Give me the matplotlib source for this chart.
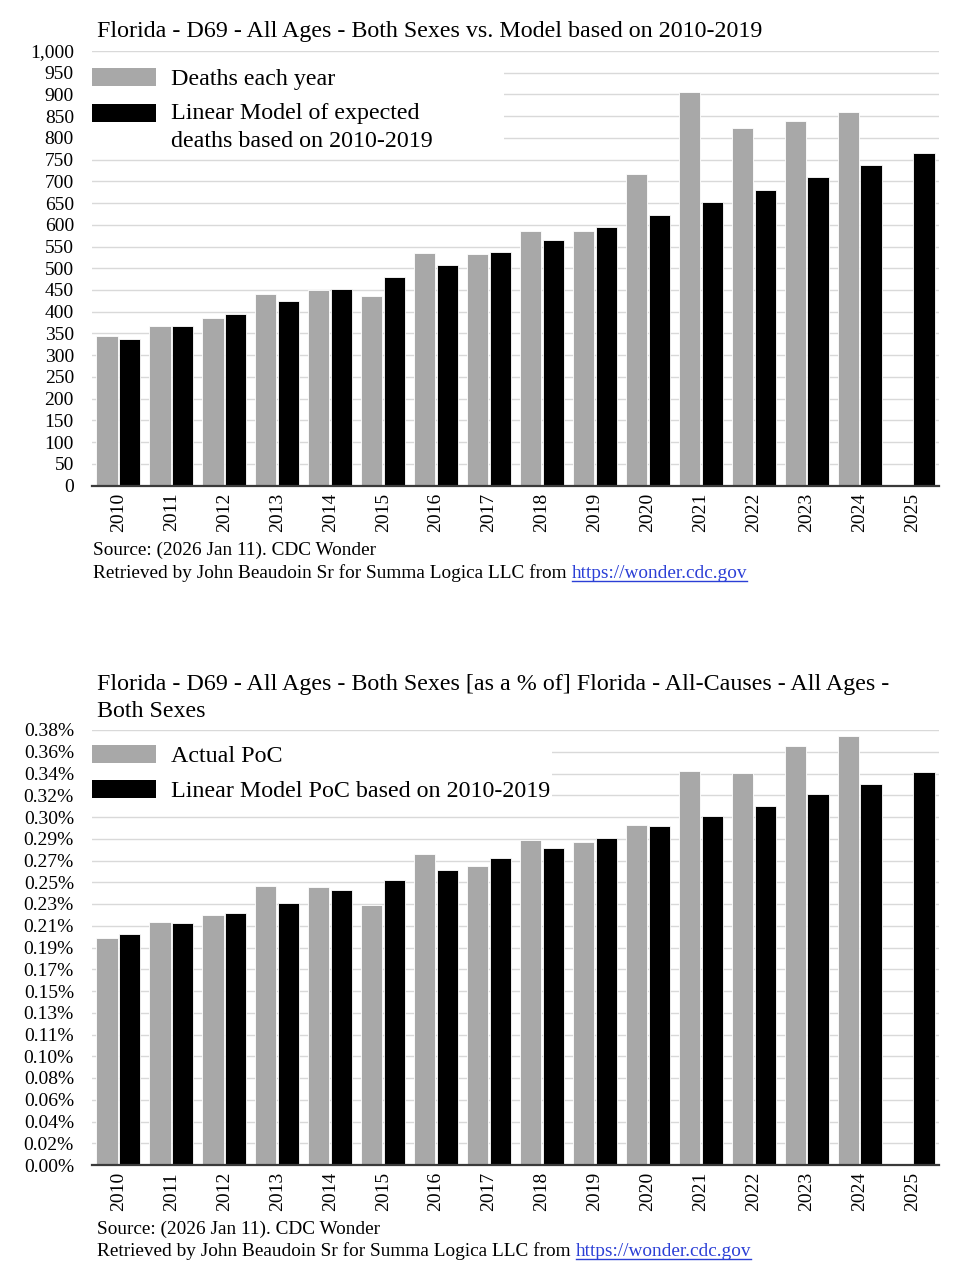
import matplotlib
matplotlib.use('Agg')
import matplotlib.pyplot as plt
from matplotlib.patches import Rectangle
from matplotlib.legend_handler import HandlerPatch
from matplotlib.lines import Line2D
import numpy as np

plt.rcParams['font.family'] = ['Liberation Serif', 'DejaVu Serif']

# ---------------- data ----------------
years = [str(y) for y in range(2010, 2026)]
deaths_actual = [344, 367, 386, 441, 451, 435, 535, 532, 586, 586, 718, 905, 823, 840, 860, None]
deaths_model = [338, 367, 395, 424, 453, 480, 508, 537, 566, 594, 623, 652, 681, 710, 738, 765]
poc_actual = [0.198, 0.212, 0.218, 0.244, 0.243, 0.227, 0.272, 0.261, 0.284, 0.282,
              0.297, 0.344, 0.342, 0.366, 0.375, None]
poc_model = [0.202, 0.211, 0.220, 0.229, 0.240, 0.249, 0.258, 0.268, 0.277, 0.286,
             0.296, 0.305, 0.314, 0.324, 0.333, 0.343]
deaths_ticks = list(range(0, 1001, 50))
deaths_tick_labels = [f"{v:,}" for v in deaths_ticks]
poc_ticks = list(np.linspace(0, 0.38, 21))
poc_tick_labels = ['0.00%', '0.02%', '0.04%', '0.06%', '0.08%', '0.10%', '0.11%', '0.13%',
                   '0.15%', '0.17%', '0.19%', '0.21%', '0.23%', '0.25%', '0.27%', '0.29%',
                   '0.30%', '0.32%', '0.34%', '0.36%', '0.38%']

title_top = "Florida - D69 - All Ages - Both Sexes vs. Model based on 2010-2019"
title_bot = "Florida - D69 - All Ages - Both Sexes [as a % of] Florida - All-Causes - All Ages -\nBoth Sexes"
leg_top = ["Deaths each year", "Linear Model of expected\ndeaths based on 2010-2019"]
leg_bot = ["Actual PoC", "Linear Model PoC based on 2010-2019"]
src1 = "Source: (2026 Jan 11). CDC Wonder"
src2 = "Retrieved by John Beaudoin Sr for Summa Logica LLC from "
url = "https://wonder.cdc.gov"

GRAY = '#a8a8a8'
BLACK = '#000000'
GRID = '#d9d9d9'

W, H = 957, 1280
fig = plt.figure(figsize=(W / 100, H / 100), dpi=100)
fig.patch.set_facecolor('white')


def fx(px):
    return px / W


def fy(py):
    return 1 - py / H


class ShiftedHandler(HandlerPatch):
    def __init__(self, shift=0.0, **kw):
        super().__init__(**kw)
        self.shift = shift

    def create_artists(self, legend, orig_handle, xdescent, ydescent, width, height,
                       fontsize, trans):
        p = Rectangle((-xdescent, -ydescent + self.shift * fontsize), width, height,
                      facecolor=orig_handle.get_facecolor(), edgecolor='none')
        p.set_transform(trans)
        return [p]


def panel(ax_rect, actual, model, ticks, tick_labels, ylim, labels, shift2, leg_box):
    ax = fig.add_axes(ax_rect)
    x = np.arange(len(years))
    w = 0.40
    off = 0.215
    xa = [xi for xi, v in zip(x, actual) if v is not None]
    va = [v for v in actual if v is not None]
    ax.bar(np.array(xa) - off, va, width=w, color=GRAY, edgecolor='white',
           linewidth=0.6, zorder=3)
    ax.bar(x + off, model, width=w, color=BLACK, edgecolor='white',
           linewidth=0.6, zorder=3)
    ax.set_xlim(-0.5, len(years) - 0.5)
    ax.set_ylim(*ylim)
    ax.set_yticks(ticks)
    ax.set_yticklabels(tick_labels, fontsize=14)
    ax.set_xticks(x)
    ax.set_xticklabels(years, rotation=90, fontsize=14)
    ax.tick_params(axis='y', length=0, pad=13)
    ax.tick_params(axis='x', length=0, pad=5)
    for s in ['top', 'right', 'left']:
        ax.spines[s].set_visible(False)
    ax.spines['bottom'].set_color('#3a3a3a')
    ax.spines['bottom'].set_linewidth(1.6)
    ax.spines['bottom'].set_zorder(5)
    ax.yaxis.grid(True, color=GRID, linewidth=1.0, zorder=0)
    ax.set_axisbelow(True)
    h1 = Rectangle((0, 0), 1, 1, facecolor=GRAY)
    h2 = Rectangle((0, 0), 1, 1, facecolor=BLACK)
    x0, ytop, x1 = leg_box
    leg = ax.legend([h1, h2], labels, loc='upper left',
                    bbox_to_anchor=(fx(x0), fy(ytop) - 0.001, fx(x1) - fx(x0), 0.001),
                    bbox_transform=fig.transFigure, mode='expand',
                    fontsize=17.3, frameon=True, fancybox=False, framealpha=1,
                    facecolor='white', edgecolor='none', borderpad=0.25,
                    borderaxespad=0, handlelength=2.68, handleheight=0.76,
                    handletextpad=0.6, labelspacing=0.54,
                    handler_map={h1: ShiftedHandler(0.0), h2: ShiftedHandler(shift2)})
    for t in leg.get_texts():
        t.set_linespacing(1.4)
    leg.set_zorder(4)
    return ax


ax1 = panel([fx(92), fy(485.5), fx(939) - fx(92), fy(51) - fy(485.5)],
            deaths_actual, deaths_model, deaths_ticks, deaths_tick_labels, (0, 1000),
            leg_top, 0.6, (86, 62, 504))
ax2 = panel([fx(92), fy(1165), fx(939) - fx(92), fy(730) - fy(1165)],
            poc_actual, poc_model, poc_ticks, poc_tick_labels, (0, 0.38),
            leg_bot, 0.0, (86, 739, 552))

fig.text(fx(97), fy(36.5), title_top, fontsize=17.3, va='baseline', ha='left')
fig.text(fx(97), fy(717), title_bot, fontsize=17.3, va='baseline', ha='left',
         linespacing=1.35)

renderer = fig.canvas.get_renderer()


def footer(xpx, y1, y2):
    fig.text(fx(xpx), fy(y1), src1, fontsize=13.9, va='baseline', ha='left')
    t = fig.text(fx(xpx), fy(y2), src2, fontsize=13.9, va='baseline', ha='left')
    bb = t.get_window_extent(renderer)
    u = fig.text(bb.x1 / W, fy(y2), url, fontsize=13.9, va='baseline', ha='left',
                 color='#2b3fd6')
    ub = u.get_window_extent(renderer)
    fig.add_artist(Line2D([ub.x0 / W, ub.x1 / W], [fy(y2 + 2.5), fy(y2 + 2.5)],
                          transform=fig.transFigure, color='#2b3fd6', linewidth=1.0))


footer(93, 555, 578)
footer(97, 1234, 1256)

fig.savefig('out.png', dpi=100, facecolor='white')
